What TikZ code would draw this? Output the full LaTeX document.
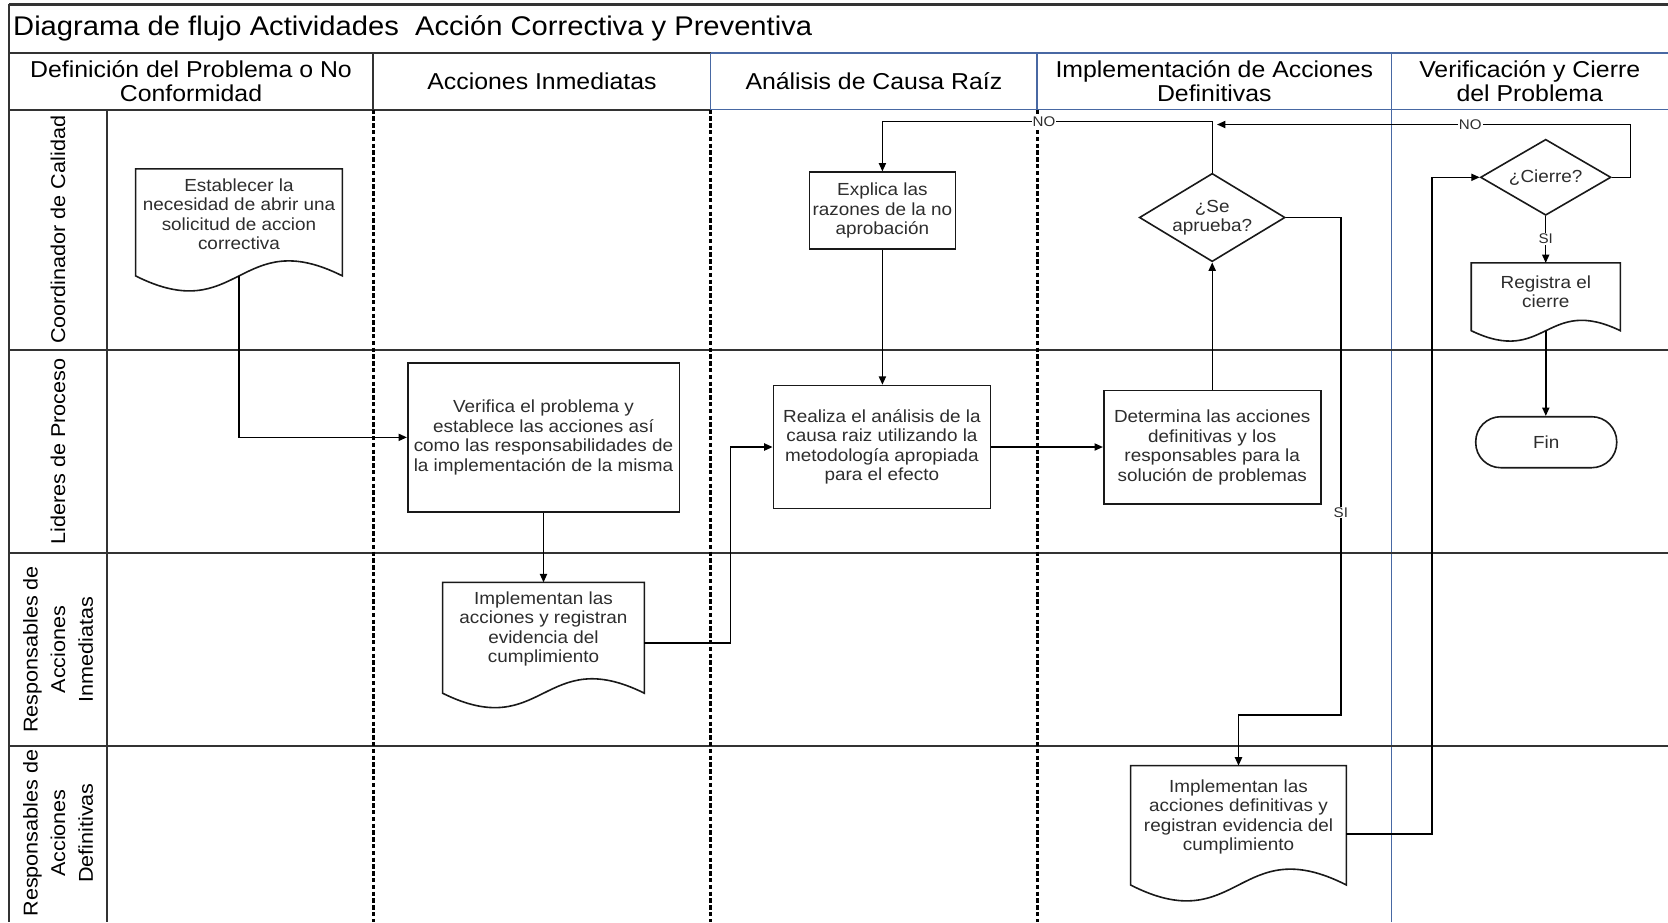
\documentclass[tikz,border=0pt]{standalone}
\usepackage{fontspec}
\setmainfont{Liberation Sans}[FakeStretch=1.08]
\usetikzlibrary{arrows.meta,shapes.geometric,calc}

\definecolor{laneblue}{RGB}{72,104,163}
\definecolor{inkgray}{RGB}{45,45,45}

\newcommand{\boxfont}{\fontsize{8.75}{9.75}\selectfont}

% Document symbol: flat top, wavy bottom.
% #1 node name, #2 drop from node south to wave ends, #3 wave control offset
\newcommand{\docoutline}[3]{%
  \draw[shapeline] (#1.north west) -- (#1.north east) -- ($(#1.south east)+(0,#2)$)
    .. controls ($(#1.south)+(0,#2-#3)$) and ($(#1.south)+(0,#2+#3)$) ..
    ($(#1.south west)+(0,#2)$) -- cycle;
  \coordinate (#1-b) at ($(#1.south)+(0,#2)$);
}

\begin{document}
\begin{tikzpicture}[x=0.5pt,y=-0.5pt,
  gridline/.style={draw=black!80, line width=1pt},
  blueline/.style={draw=laneblue, line width=0.8pt},
  phaseline/.style={draw=black, line width=1.4pt, dash pattern=on 2.2pt off 1.2pt},
  shapeline/.style={draw=black!90, line width=0.8pt},
  proc/.style={shapeline, rectangle, inner sep=0pt, align=center, text=inkgray, font=\boxfont},
  doctext/.style={rectangle, inner sep=0pt, align=center, text=inkgray, font=\boxfont},
  decision/.style={shapeline, diamond, inner sep=0pt, align=center, text=inkgray, font=\boxfont},
  terminal/.style={shapeline, rectangle, rounded corners=12.5pt, inner sep=0pt, text=inkgray, font=\boxfont},
  conn/.style={draw=black, line width=0.7pt, -{Triangle[length=4.2pt,width=3.6pt]}},
  lbl/.style={fill=white, inner sep=0.5pt, text=inkgray, font=\fontsize{7}{8}\selectfont},
  phasehead/.style={align=center, inner sep=0pt, font=\fontsize{11.5}{12.3}\selectfont},
  lanehead/.style={align=center, inner sep=0pt, rotate=90, font=\fontsize{10}{13.8}\selectfont},
]
\useasboundingbox (0,0) rectangle (1668,922);

% ---------- frame, title row and phase header ----------
\draw[gridline, line width=1.3pt] (8.5,4.3) -- (1668,4.3);
\draw[gridline] (8.5,4.3) -- (8.5,922);
\draw[gridline] (8.5,53) -- (710.6,53);
\draw[blueline] (710.6,53) -- (1668,53);
\draw[gridline] (8.5,109.6) -- (710.6,109.6);
\draw[blueline] (710.6,109.6) -- (1668,109.6);
\draw[gridline] (373.4,53) -- (373.4,109.6);
\draw[blueline] (710.6,53) -- (710.6,109.6);
\draw[blueline] (1037.2,53) -- (1037.2,109.6);
\draw[blueline] (1391.5,53) -- (1391.5,922);

% ---------- swimlanes ----------
\draw[gridline] (107.4,109.6) -- (107.4,922);
\draw[gridline] (8.5,350) -- (1668,350);
\draw[gridline] (8.5,553) -- (1668,553);
\draw[gridline] (8.5,745.7) -- (1668,745.7);

% phase separators
\draw[phaseline] (373.4,109.6) -- (373.4,922);
\draw[phaseline] (710.6,109.6) -- (710.6,922);
\draw[phaseline] (1037.2,109.6) -- (1037.2,922);

% ---------- titles ----------
\node[anchor=west, inner sep=0pt, font=\fontsize{13.5}{16}\selectfont] (title) at (12.8,28.7)
  {Diagrama de flujo Actividades~ Acción Correctiva y Preventiva};

\node[phasehead] (h1) at (191,81.3) {Definición del Problema o No\\Conformidad};
\node[phasehead] (h2) at (542,81.3) {Acciones Inmediatas};
\node[phasehead] (h3) at (873.9,81.3) {Análisis de Causa Raíz};
\node[phasehead] (h4) at (1214.3,81.3) {Implementación de Acciones\\Definitivas};
\node[phasehead] (h5) at (1529.7,81.3) {Verificación y Cierre\\del Problema};

\node[lanehead] (l1) at (58,229.8) {Coordinador de Calidad};
\node[lanehead] (l2) at (58,451.5) {Lideres de Proceso};
\node[lanehead] (l3) at (58,649.5) {Responsables de\\Acciones\\Inmediatas};
\node[lanehead] (l4) at (58,833) {Responsables de\\Acciones\\Definitivas};

% ---------- flow shapes ----------
\node[doctext, minimum width=103pt, minimum height=44.7pt] (est) at (239,214)
  {Establecer la\\necesidad de abrir una\\solicitud de accion\\correctiva};
\docoutline{est}{16.8}{52}

\node[proc, minimum width=135.8pt, minimum height=74.65pt] (ver) at (543.5,437.35)
  {Verifica el problema y\\establece las acciones así\\como las responsabilidades de\\la implementación de la misma};

\node[doctext, minimum width=100.5pt, minimum height=46.3pt] (impI) at (543.5,629)
  {Implementan las\\acciones y registran\\evidencia del\\cumplimiento};
\docoutline{impI}{17.5}{50}

\node[proc, minimum width=72.9pt, minimum height=38.35pt] (exp) at (882.4,210.6)
  {Explica las\\razones de la no\\aprobación};

\node[proc, minimum width=108.5pt, minimum height=61.5pt] (rea) at (881.9,447)
  {Realiza el análisis de la\\causa raiz utilizando la\\metodología apropiada\\para el efecto};

\node[decision, aspect=1.65, minimum width=72.85pt, minimum height=44.15pt] (apr) at (1212.2,217.5)
  {¿Se\\aprueba?};

\node[proc, minimum width=108.5pt, minimum height=56.9pt] (det) at (1212.2,447.3)
  {Determina las acciones\\definitivas y los\\responsables para la\\solución de problemas};

\node[doctext, minimum width=107.5pt, minimum height=51pt] (impD) at (1238.5,817)
  {Implementan las\\acciones definitivas y\\registran evidencia del\\cumplimiento};
\docoutline{impD}{16.6}{55}

\node[decision, aspect=1.72, minimum width=65.25pt, minimum height=38pt] (cie) at (1545.7,177.3)
  {¿Cierre?};

\node[doctext, minimum width=74.15pt, minimum height=28.2pt] (reg) at (1545.8,291.5)
  {Registra el\\cierre};
\docoutline{reg}{10.6}{36}

\node[terminal, minimum width=70.5pt, minimum height=25.5pt] (fin) at (1546.2,442.2) {Fin};

% ---------- connectors ----------
\coordinate (nojoin) at (1217,124.5);

\draw[conn] (est-b) |- (ver.west);
\draw[conn] (ver.south) -- (impI.north);
\draw[conn] ([yshift=-7pt]impI.east) -- ++(86,0) |- (rea.west);
\draw[conn] (exp.south) -- (exp.south |- rea.north);
\draw[conn] (rea.east) -- (rea.east -| det.west);
\draw[conn] (det.north) -- (apr.south);
\draw[conn] (apr.north) -- ++(0,-51) -| node[lbl,pos=0.255]{NO} (exp.north);
\draw[conn] (apr.east) -- ++(55,0) -- node[lbl,pos=0.593]{SI} ++(0,497.5) -| (impD.north);
\draw[conn] ([yshift=-8.5pt]impD.east) -- ++(85.7,0) |- (cie.west);
\draw[conn] (cie.east) -- ++(19,0) |- node[lbl,pos=0.694]{NO} (nojoin);
\draw[conn] (cie.south) -- node[lbl,pos=0.48]{SI} (cie.south |- reg.north);
\draw[conn] (reg-b) -- (reg-b |- fin.north);

\end{tikzpicture}
\end{document}
